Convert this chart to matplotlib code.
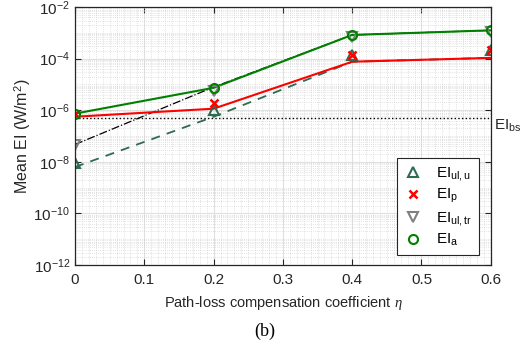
import numpy as np
import matplotlib.pyplot as plt
from matplotlib.ticker import LogLocator, MultipleLocator, NullFormatter, FuncFormatter

plt.rcParams['font.family'] = ['Liberation Sans', 'DejaVu Sans']
plt.rcParams['mathtext.fontset'] = 'custom'
plt.rcParams['mathtext.rm'] = 'Liberation Sans'
plt.rcParams['mathtext.it'] = 'Liberation Serif:italic'

# path-loss compensation coefficient
eta = [0, 0.2, 0.4, 0.6]

# analytical curves (lines)
ei_a_line = [7.4e-7, 7.4e-6, 8.3e-4, 1.25e-3]
ei_p_line = [5.6e-7, 1.15e-6, 7.6e-5, 1.07e-4]
ei_ultr_line = [4.7e-8, 7.9e-6, 8.3e-4, 1.25e-3]
ei_ulu_line = [6.3e-9, 5.6e-7, 7.6e-5, 1.07e-4]

# simulation points (markers)
ei_ulu_sim = [8.7e-9, 1.05e-6, 1.4e-4, 2.1e-4]
ei_p_sim = [7.4e-7, 1.95e-6, 1.4e-4, 2.2e-4]
ei_ultr_sim = [4.7e-8, 5.8e-6, 7.0e-4, 1.07e-3]
ei_a_sim = [7.4e-7, 7.4e-6, 8.3e-4, 1.25e-3]

ei_bs = 5.1e-7

c_green = '#008000'
c_dgreen = '#2e6b50'
c_grey = '#808080'

fig = plt.figure(figsize=(5.3, 3.52), dpi=100)
ax = fig.add_axes([0.1415, 0.247, 0.7845, 0.733])

ax.semilogy(eta, ei_ulu_line, '--', color=c_dgreen, lw=1.3, dashes=(5, 4))
ax.semilogy(eta, ei_ultr_line, '-.', color='black', lw=0.9)
ax.semilogy(eta, ei_p_line, '-', color='red', lw=1.5)
ax.semilogy(eta, ei_a_line, '-', color=c_green, lw=1.5)
ax.axhline(ei_bs, color='black', ls=':', lw=1.0)

ax.semilogy(eta, ei_ulu_sim, '^', mfc='none', mec=c_dgreen, mew=1.5, ms=7, ls='none', label=r'EI$_{\rm ul,u}$')
ax.semilogy(eta, ei_p_sim, 'x', color='red', mew=1.8, ms=6, ls='none', label=r'EI$_{\rm p}$')
ax.semilogy(eta, ei_ultr_sim, 'v', mfc='none', mec=c_grey, mew=1.5, ms=7, ls='none', label=r'EI$_{\rm ul,tr}$')
ax.semilogy(eta, ei_a_sim, 'o', mfc='none', mec=c_green, mew=1.5, ms=6.5, ls='none', label=r'EI$_{\rm a}$')

ax.set_xlim(0, 0.6)
ax.set_ylim(1e-12, 1e-2)
ax.xaxis.set_major_locator(MultipleLocator(0.1))
ax.xaxis.set_minor_locator(MultipleLocator(0.01))
ax.xaxis.set_major_formatter(FuncFormatter(lambda v, p: f'{v:.1f}'.rstrip('0').rstrip('.') if abs(v) > 1e-9 else '0'))
ax.yaxis.set_major_locator(LogLocator(base=100, numticks=10))
ax.yaxis.set_minor_locator(LogLocator(base=10, subs=np.arange(1, 10), numticks=100))
ax.yaxis.set_minor_formatter(NullFormatter())

ax.grid(True, which='major', color='#e0e0e0', lw=0.8, ls='-')
ax.grid(True, which='minor', color='#c8c8c8', lw=0.5, ls=(0, (1, 2)))
ax.set_axisbelow(True)
ax.tick_params(which='both', direction='in', top=True, right=True, labelsize=11, colors='#262626')
ax.tick_params(which='minor', length=0)
ax.tick_params(which='major', length=4, width=0.8)
ax.tick_params(axis='x', pad=6)
for s in ax.spines.values():
    s.set_color('#262626')
    s.set_linewidth(0.9)

ax.set_xlabel(r'Path-loss compensation coefficient $\eta$', fontsize=10.5, color='#262626', labelpad=5)
ax.set_ylabel(r'Mean EI (W/m$^2$)', fontsize=11.5, color='#262626')
ax.yaxis.set_label_coords(-0.1, 0.5)

ax.text(1.007, ei_bs, r'EI$_{\rm bs}$', transform=ax.get_yaxis_transform(), fontsize=11,
        va='top', ha='left', color='#262626')

leg = ax.legend(loc='lower right', bbox_to_anchor=(0.982, 0.02), fontsize=11, fancybox=False,
                framealpha=1, edgecolor='#262626', handletextpad=0.9, labelspacing=0.3,
                borderpad=0.45, handlelength=1.2, borderaxespad=0.3)
leg.get_frame().set_linewidth(0.8)

fig.text(0.5, 0.045, '(b)', ha='center', fontsize=13, family='Liberation Serif')

fig.savefig('out.png', dpi=100)
